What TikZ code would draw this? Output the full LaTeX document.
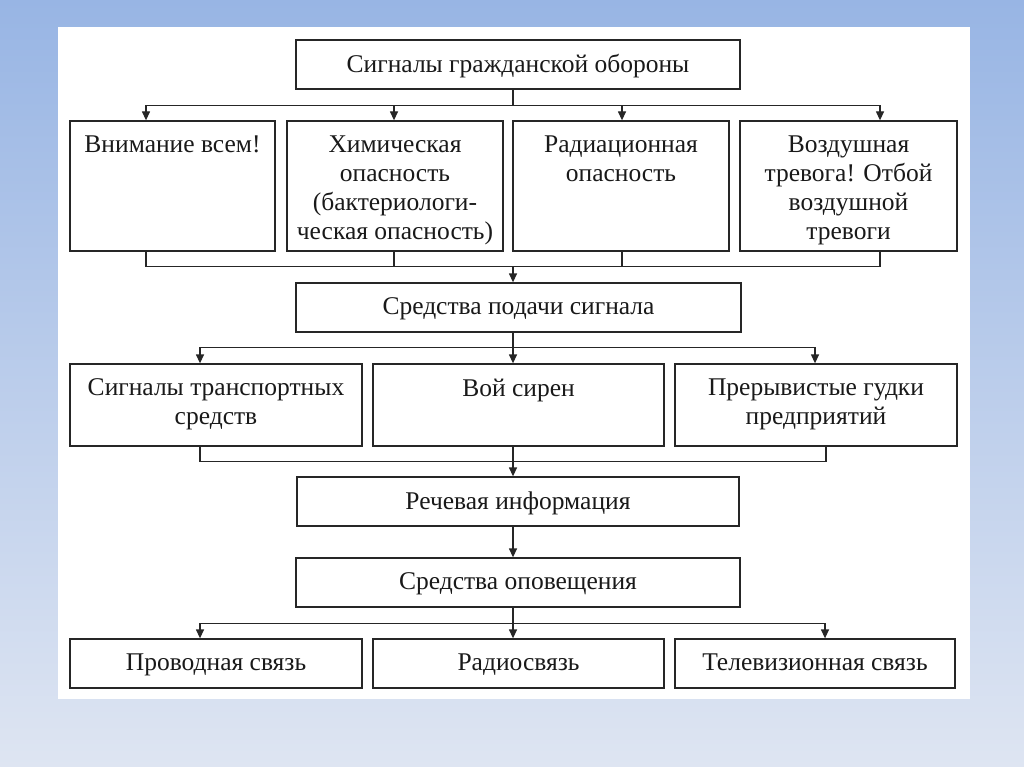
\documentclass[tikz,border=0pt]{standalone}
\usepackage{fontspec}
\setmainfont{Liberation Serif}
\usetikzlibrary{arrows.meta, positioning}
\definecolor{bgtop}{RGB}{152,181,228}
\definecolor{bgbot}{RGB}{222,229,242}

\begin{document}
\begin{tikzpicture}[
        x=1pt, y=-1pt,
        >={Triangle[length=9pt, width=8pt]},
        node distance=15pt,
        % boîtes
        box/.style={
            rectangle,
            draw=black!85,
            line width=1.3pt,
            fill=white,
            inner sep=0pt
        },
        boxsize/.style 2 args={minimum width=#1, minimum height=#2},
        % texte des boîtes
        boxtext/.style={
            font=\fontsize{25.5}{29}\selectfont,
            align=center,
            inner sep=0pt,
            text=black!90
        },
        % lignes
        line/.style={line width=1.3pt, draw=black!85},
        arr/.style={line, ->}
    ]

    % --- FOND ---
    \shade[top color=bgtop, bottom color=bgbot] (0,0) rectangle (1024,767);
    \fill[white] (58,27) rectangle (970,699);

    % --- NIVEAU 1 ---
    \node [box, boxsize={444pt}{49pt}] (signals) at (518,64.5) {};
    \node [boxtext, below=of signals.north] (signalsT) {Сигналы гражданской обороны};

    % --- NIVEAU 2 : TYPES DE SIGNAUX ---
    \node [box, boxsize={205pt}{130pt}] (attn) at (172.5,186) {};
    \node [boxtext, below=of attn.north] (attnT) {Внимание всем!};
    \node [box, boxsize={216pt}{130pt}] (chem) at (395,186) {};
    \node [boxtext, below=of chem.north] (chemT) {Химическая\\опасность\\(бактериологи-\\ческая опасность)};
    \node [box, boxsize={216pt}{130pt}] (rad) at (621,186) {};
    \node [boxtext, below=of rad.north] (radT) {Радиационная\\опасность};
    \node [box, boxsize={217pt}{130pt}] (air) at (848.5,186) {};
    \node [boxtext, below=of air.north] (airT) {Воздушная\\тревога! Отбой\\воздушной\\тревоги};

    % --- NIVEAU 3 ---
    \node [box, boxsize={445pt}{49pt}] (means) at (518.5,307.5) {};
    \node [boxtext, below=of means.north] (meansT) {Средства подачи сигнала};

    % --- NIVEAU 4 : MOYENS ---
    \node [box, boxsize={292pt}{82pt}] (transp) at (216,405) {};
    \node [boxtext, below=of transp.north] (transpT) {Сигналы транспортных\\средств};
    \node [box, boxsize={291pt}{82pt}] (siren) at (518.5,405) {};
    \node [boxtext, below=of siren.north] (sirenT) {Вой сирен};
    \node [box, boxsize={282pt}{82pt}] (horns) at (816,405) {};
    \node [boxtext, below=of horns.north] (hornsT) {Прерывистые гудки\\предприятий};

    % --- NIVEAUX 5 ET 6 ---
    \node [box, boxsize={442pt}{49pt}] (speech) at (518,501.5) {};
    \node [boxtext, below=of speech.north] (speechT) {Речевая информация};
    \node [box, boxsize={444pt}{49pt}] (warn) at (518,582.5) {};
    \node [boxtext, below=of warn.north] (warnT) {Средства оповещения};

    % --- NIVEAU 7 : LIAISONS ---
    \node [box, boxsize={292pt}{49pt}] (wire) at (216,663.5) {};
    \node [boxtext, below=of wire.north] (wireT) {Проводная связь};
    \node [box, boxsize={291pt}{49pt}] (radio) at (518.5,663.5) {};
    \node [boxtext, below=of radio.north] (radioT) {Радиосвязь};
    \node [box, boxsize={280pt}{49pt}] (tv) at (815,663.5) {};
    \node [boxtext, below=of tv.north] (tvT) {Телевизионная связь};

    % --- POINTS DE BUS ---
    \coordinate (bus1) at ([xshift=-5pt, yshift=-16pt]signals.south);
    \coordinate (bus2) at ([xshift=-5.5pt, yshift=16pt]means.north);
    \coordinate (bus3) at ([xshift=-5.5pt, yshift=-15pt]means.south);
    \coordinate (bus4) at ([xshift=-5pt, yshift=15pt]speech.north);
    \coordinate (bus5) at ([xshift=-5pt, yshift=-16pt]warn.south);

    % --- FLÈCHES ---
    \draw [line] ([xshift=-5pt]signals.south) -- (bus1);
    \foreach \n/\s in {attn/-26.5, chem/-1, rad/1, air/31.5}
        \draw [arr] (bus1) -| ([xshift=\s pt]\n.north);
    \foreach \n/\s in {attn/-26.5, chem/-1, rad/1, air/31.5}
        \draw [line] ([xshift=\s pt]\n.south) |- (bus2);
    \draw [arr] (bus2) -- ([xshift=-5.5pt]means.north);

    \draw [line] ([xshift=-5.5pt]means.south) -- (bus3);
    \foreach \n/\s in {transp/-16, siren/-5.5, horns/-1}
        \draw [arr] (bus3) -| ([xshift=\s pt]\n.north);
    \foreach \n/\s in {transp/-16, siren/-5.5, horns/10}
        \draw [line] ([xshift=\s pt]\n.south) |- (bus4);
    \draw [arr] (bus4) -- ([xshift=-5pt]speech.north);

    \draw [arr] ([xshift=-5pt]speech.south) -- ([xshift=-5pt]warn.north);

    \draw [line] ([xshift=-5pt]warn.south) -- (bus5);
    \foreach \n/\s in {wire/-16, radio/-5.5, tv/10}
        \draw [arr] (bus5) -| ([xshift=\s pt]\n.north);

\end{tikzpicture}
\end{document}
